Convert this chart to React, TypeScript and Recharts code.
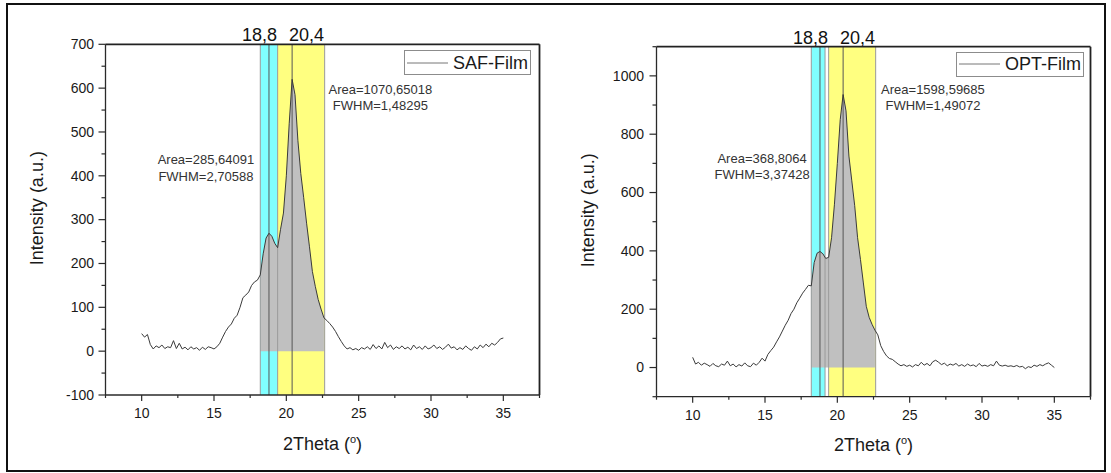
import React from 'react';
import {
  ComposedChart,
  Line,
  Area,
  XAxis,
  YAxis,
  ReferenceArea,
  ReferenceLine,
  ReferenceDot,
  Legend,
} from 'recharts';

const twoTheta = [
  10.0, 10.2, 10.4, 10.6, 10.8, 11.0, 11.2, 11.4, 11.6, 11.8,
  12.0, 12.2, 12.4, 12.6, 12.8, 13.0, 13.2, 13.4, 13.6, 13.8,
  14.0, 14.2, 14.4, 14.6, 14.8, 15.0, 15.2, 15.4, 15.6, 15.8,
  16.0, 16.2, 16.4, 16.6, 16.8, 17.0, 17.2, 17.4, 17.6, 17.8,
  18.0, 18.2, 18.4, 18.6, 18.8, 19.0, 19.2, 19.4, 19.6, 19.8,
  20.0, 20.2, 20.4, 20.6, 20.8, 21.0, 21.2, 21.4, 21.6, 21.8,
  22.0, 22.2, 22.4, 22.6, 22.8, 23.0, 23.2, 23.4, 23.6, 23.8,
  24.0, 24.2, 24.4, 24.6, 24.8, 25.0, 25.2, 25.4, 25.6, 25.8,
  26.0, 26.2, 26.4, 26.6, 26.8, 27.0, 27.2, 27.4, 27.6, 27.8,
  28.0, 28.2, 28.4, 28.6, 28.8, 29.0, 29.2, 29.4, 29.6, 29.8,
  30.0, 30.2, 30.4, 30.6, 30.8, 31.0, 31.2, 31.4, 31.6, 31.8,
  32.0, 32.2, 32.4, 32.6, 32.8, 33.0, 33.2, 33.4, 33.6, 33.8,
  34.0, 34.2, 34.4, 34.6, 34.8, 35.0,
];

const safFilm = [
  40, 32, 38, 15, 5, 12, 8, 14, 6, 10,
  8, 24, 6, 18, 5, 9, 3, 10, 5, 8,
  2, 9, 4, 10, 8, 5, 10, 18, 32, 45,
  55, 62, 75, 82, 100, 122, 128, 135, 150, 158,
  162, 174, 222, 258, 269, 262, 246, 236, 278, 315,
  400, 520, 620, 585, 480, 405, 350, 292, 238, 182,
  148, 118, 96, 76, 70, 63, 55, 45, 33, 22,
  12, 5, 8, 3, 6, 2, 8, 5, 10, 4,
  15, 6, 12, 5, 20, 8, 14, 4, 10, 6,
  12, 5, 9, 3, 14, 6, 10, 4, 12, 5,
  8, 14, 6, 10, 4, 9, 16, 7, 10, 3,
  8, 4, 12, 6, 2, 10, 5, 14, 8, 16,
  10, 18, 14, 20, 28, 30,
];

const optFilm = [
  35, 12, 18, 8, 15, 10, 4, 14, 6, 3,
  12, 8, 22, 6, 12, 2, 10, 5, 16, 6,
  3, 15, 8, 18, 32, 22, 45, 58, 70, 88,
  105, 125, 145, 162, 185, 200, 222, 238, 255, 268,
  282, 280, 360, 392, 398, 390, 374, 378, 445, 560,
  700, 850, 936, 880, 725, 640, 555, 445, 370, 290,
  210, 172, 148, 128, 112, 75, 55, 40, 31, 28,
  20, 12, 6, 10, 4, 8, 2, 10, 6, 18,
  8, 14, 6, 20, 25, 18, 10, 15, 6, 12,
  8, 14, 5, 10, 4, 12, 6, 9, 3, 14,
  5, 8, 4, 10, 6, 22, 8, 5, 8, 4,
  6, 3, 7, 2, 4, -4, 3, 0, 8, 4,
  10, 6, 12, 16, 8, 0,
];

const xDomain = [7.5, 37.5];
const xTicks = [7.5, 10, 12.5, 15, 17.5, 20, 22.5, 25, 27.5, 30, 32.5, 35, 37.5];
const xMajorTicks = [10, 15, 20, 25, 30, 35];

const safYDomain = [-100, 700];
const safYTicks = [-100, -50, 0, 50, 100, 150, 200, 250, 300, 350, 400, 450, 500, 550, 600, 650, 700];
const safYMajor = [-100, 0, 100, 200, 300, 400, 500, 600, 700];

const optYDomain = [-100, 1100];
const optYTicks = [-100, 0, 100, 200, 300, 400, 500, 600, 700, 800, 900, 1000, 1100];
const optYMajor = [0, 200, 400, 600, 800, 1000];

const peakPositions = [18.8, 20.4];
const peakLabels = ['18,8', '20,4'];

const safCyanBand = [18.2, 19.4];
const safYellowBand = [19.4, 22.65];
const safBandEdges = [18.2, 19.4, 22.65];

const optCyanBand = [18.2, 19.15];
const optYellowBand = [19.4, 22.65];
const optBandEdges = [18.2, 19.15, 19.4, 22.65];

const fillRange = [18.2, 22.6];

const safAnnX = [14.44, 26.5];
const safAnnY = [426, 587];
const safAnnText = [
  ['Area=285,64091', 'FWHM=2,70588'],
  ['Area=1070,65018', 'FWHM=1,48295'],
];

const optAnnX = [14.8, 26.61];
const optAnnY = [702, 938];
const optAnnText = [
  ['Area=368,8064', 'FWHM=3,37428'],
  ['Area=1598,59685', 'FWHM=1,49072'],
];

const FONT = '"Liberation Sans", Arial, Helvetica, sans-serif';
const AXIS = '#2a2a2a';
const FRAME = '#222222';
const CYAN = '#80ffff';
const YELLOW = '#ffff80';
const GRAY_FILL = '#c0c0c0';
const EDGE = '#9a9a9a';
const PEAK_LINE = '#555555';
const CURVE = '#3a3a3a';
const peakLabelDx = [-9.5, 14.3];

function buildData(values: number[]) {
  return twoTheta.map((x, i) => ({
    x,
    y: values[i],
    fill: x >= fillRange[0] && x <= fillRange[1] ? values[i] : null,
  }));
}

type PanelProps = {
  name: string;
  values: number[];
  yDomain: number[];
  yTicks: number[];
  yMajor: number[];
  cyan: number[];
  yellow: number[];
  edges: number[];
  annX: number[];
  annY: number[];
  annText: string[][];
  width: number;
  margin: { top: number; right: number; bottom: number; left: number };
  yAxisWidth: number;
  yLabelGap: number;
  legendPos: { left: number; top: number };
};

function Panel(props: PanelProps) {
  const data = buildData(props.values);

  const yTick = (p: any) => {
    const { x, y, payload } = p;
    const v = payload.value;
    const major = props.yMajor.includes(v);
    const len = major ? 7 : 4;
    return (
      <g>
        <line x1={x - len} x2={x} y1={y} y2={y} stroke={AXIS} strokeWidth={1.2} />
        {major && (
          <text x={x - props.yLabelGap} y={y + 4.8} textAnchor="end" fontSize={14} fill="#1a1a1a" fontFamily={FONT}>
            {v}
          </text>
        )}
      </g>
    );
  };

  const xTick = (p: any) => {
    const { x, y, payload } = p;
    const v = payload.value;
    const major = xMajorTicks.includes(v);
    const len = major ? 6 : 3;
    return (
      <g>
        <line x1={x} x2={x} y1={y} y2={y + len} stroke={AXIS} strokeWidth={1.2} />
        {major && (
          <text x={x} y={y + 23.3} textAnchor="middle" fontSize={14} fill="#1a1a1a" fontFamily={FONT}>
            {v}
          </text>
        )}
      </g>
    );
  };

  const xLabel = (p: any) => {
    const vb = p.viewBox || { x: 0, y: 0, width: 0, height: 0 };
    const cx = vb.x + vb.width / 2;
    return (
      <text x={cx} y={vb.y + 54.5} textAnchor="middle" fontSize={18} fill="#1a1a1a" fontFamily={FONT}>
        2Theta (
        <tspan fontSize={11} dy={-7}>o</tspan>
        <tspan dy={7}>)</tspan>
      </text>
    );
  };

  const yLabel = (p: any) => {
    const vb = p.viewBox || { x: 0, y: 0, width: 0, height: 0 };
    const cx = vb.x + vb.width - 68.6;
    const cy = vb.y + vb.height / 2 - 11.5;
    return (
      <text
        x={cx}
        y={cy}
        transform={`rotate(-90, ${cx}, ${cy})`}
        textAnchor="middle"
        dominantBaseline="central"
        fontSize={18}
        fill="#1a1a1a"
        fontFamily={FONT}
      >
        Intensity (a.u.)
      </text>
    );
  };

  const peakLabel = (text: string, dx: number) => (p: any) => {
    const vb = p.viewBox || { x: 0, y: 0 };
    return (
      <text x={vb.x + dx} y={vb.y - 3} textAnchor="middle" fontSize={18} fill="#111" fontFamily={FONT}>
        {text}
      </text>
    );
  };

  const annLabel = (lines: string[]) => (p: any) => {
    const vb = p.viewBox || { x: 0, y: 0, width: 0, height: 0 };
    const cx = vb.x + (vb.width || 0) / 2;
    const cy = vb.y + (vb.height || 0) / 2;
    return (
      <text x={cx} y={cy} textAnchor="middle" fontSize={13} fill="#333" fontFamily={FONT}>
        {lines.map((t, i) => (
          <tspan key={i} x={cx} dy={i === 0 ? 0 : 16.5}>
            {t}
          </tspan>
        ))}
      </text>
    );
  };

  const legendContent = (p: any) => {
    const items = (p.payload || []).filter((e: any) => e.type !== 'none');
    const label = items.length ? items[0].value : props.name;
    return (
      <div
        style={{
          display: 'flex',
          alignItems: 'center',
          height: 25,
          boxSizing: 'border-box',
          border: '1px solid #8c8c8c',
          padding: '0 2px 0 2px',
          background: '#fff',
          fontFamily: FONT,
        }}
      >
        <svg width={41} height={10} style={{ display: 'block' }}>
          <line x1={0} x2={41} y1={5} y2={5} stroke="#777" strokeWidth={1} />
        </svg>
        <span style={{ fontSize: 18, color: '#1a1a1a', marginLeft: 5, lineHeight: '20px', whiteSpace: 'nowrap' }}>
          {label}
        </span>
      </div>
    );
  };

  return (
    <ComposedChart
      width={props.width}
      height={473}
      data={data}
      margin={props.margin}
      style={{ fontFamily: FONT }}
    >
      <XAxis
        dataKey="x"
        type="number"
        domain={xDomain}
        ticks={xTicks}
        interval={0}
        allowDataOverflow
        height={60}
        tickSize={0}
        tickMargin={0}
        tickLine={false}
        axisLine={{ stroke: AXIS, strokeWidth: 1.3 }}
        tick={xTick}
        label={{ content: xLabel }}
      />
      <YAxis
        type="number"
        domain={props.yDomain}
        ticks={props.yTicks}
        interval={0}
        allowDataOverflow
        width={props.yAxisWidth}
        tickSize={0}
        tickMargin={0}
        tickLine={false}
        axisLine={{ stroke: AXIS, strokeWidth: 1.3 }}
        tick={yTick}
        label={{ content: yLabel }}
      />

      <ReferenceArea x1={props.cyan[0]} x2={props.cyan[1]} fill={CYAN} fillOpacity={1} stroke="none" />
      <ReferenceArea x1={props.yellow[0]} x2={props.yellow[1]} fill={YELLOW} fillOpacity={1} stroke="none" />

      <Area
        dataKey="fill"
        type="linear"
        baseValue={0}
        stroke="none"
        fill={GRAY_FILL}
        fillOpacity={1}
        legendType="none"
        isAnimationActive={false}
        dot={false}
        activeDot={false}
      />

      {props.edges.map((e) => (
        <ReferenceLine key={`e${e}`} x={e} stroke={EDGE} strokeWidth={1} />
      ))}
      {peakPositions.map((pk, i) => (
        <ReferenceLine
          key={`p${pk}`}
          x={pk}
          stroke={PEAK_LINE}
          strokeWidth={1}
          label={{ content: peakLabel(peakLabels[i], peakLabelDx[i]) }}
        />
      ))}

      <ReferenceLine key="frameTop" y={props.yDomain[1]} stroke={FRAME} strokeWidth={1.8} ifOverflow="visible" />
      <ReferenceLine key="frameRight" x={xDomain[1]} stroke={FRAME} strokeWidth={1.8} ifOverflow="visible" />

      <Line
        dataKey="y"
        name={props.name}
        type="linear"
        stroke={CURVE}
        strokeWidth={1}
        dot={false}
        activeDot={false}
        isAnimationActive={false}
      />

      {props.annX.map((ax, i) => (
        <ReferenceDot
          key={`a${i}`}
          x={ax}
          y={props.annY[i]}
          r={0}
          fill="none"
          stroke="none"
          label={{ content: annLabel(props.annText[i]) }}
        />
      ))}

      <Legend
        layout="horizontal"
        verticalAlign="middle"
        align="center"
        wrapperStyle={{ left: props.legendPos.left, top: props.legendPos.top, width: 'auto', height: 'auto' }}
        content={legendContent}
      />
    </ComposedChart>
  );
}

export default function App() {
  return (
    <div style={{ position: 'absolute', left: 0, top: 0, width: 1111, height: 473, background: '#fff', fontFamily: FONT }}>
      <div
        style={{
          position: 'absolute',
          left: 6,
          top: 3,
          width: 1100,
          height: 469,
          border: '2px solid #111',
          boxSizing: 'border-box',
        }}
      />
      <div style={{ position: 'absolute', left: 0, top: 0 }}>
        <Panel
          name="SAF-Film"
          values={safFilm}
          yDomain={safYDomain}
          yTicks={safYTicks}
          yMajor={safYMajor}
          cyan={safCyanBand}
          yellow={safYellowBand}
          edges={safBandEdges}
          annX={safAnnX}
          annY={safAnnY}
          annText={safAnnText}
          width={555}
          margin={{ top: 44.3, right: 15.5, bottom: 18, left: 0 }}
          yAxisWidth={105.5}
          yLabelGap={11.5}
          legendPos={{ left: 404, top: 50 }}
        />
      </div>
      <div style={{ position: 'absolute', left: 551, top: 0 }}>
        <Panel
          name="OPT-Film"
          values={optFilm}
          yDomain={optYDomain}
          yTicks={optYTicks}
          yMajor={optYMajor}
          cyan={optCyanBand}
          yellow={optYellowBand}
          edges={optBandEdges}
          annX={optAnnX}
          annY={optAnnY}
          annText={optAnnText}
          width={560}
          margin={{ top: 46.7, right: 20.5, bottom: 16.3, left: 0 }}
          yAxisWidth={105.5}
          yLabelGap={12.5}
          legendPos={{ left: 405, top: 51.7 }}
        />
      </div>
    </div>
  );
}
